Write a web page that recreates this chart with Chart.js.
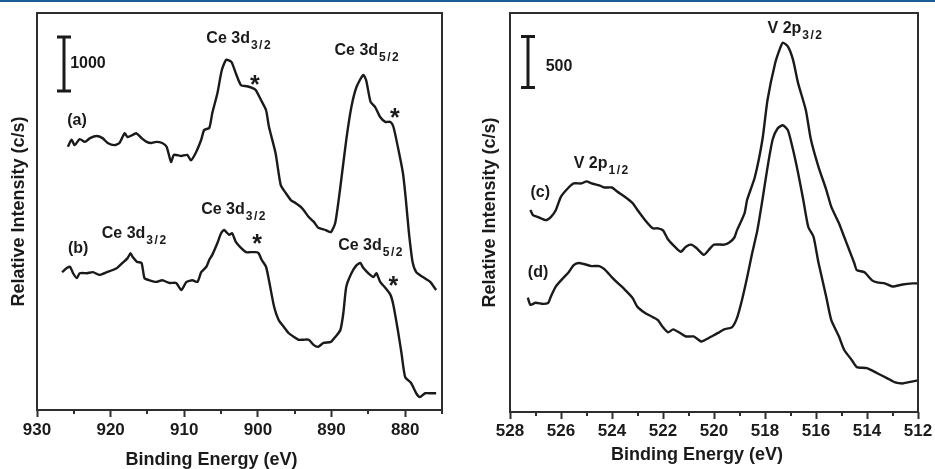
<!DOCTYPE html>
<html lang="en">
<head>
<meta charset="UTF-8">
<title>XPS spectra: Ce 3d and V 2p</title>
<script src="https://cdn.jsdelivr.net/npm/chart.js"></script>
<style>
  body { margin: 0; background: white; }
  .wrap { position: relative; width: 935px; height: 469px; overflow: hidden; }
  canvas { position: absolute; top: 0; }
  #ceChart { left: 0; }
  #vChart { left: 465px; }
  .topline { position: absolute; top: 0; left: 0; width: 935px; height: 2px; background: #1b5d96; }
</style>
</head>
<body>
<div class="wrap">
  <canvas id="ceChart" width="465" height="469"></canvas>
  <canvas id="vChart" width="470" height="469"></canvas>
  <div class="topline"></div>
</div>

<script>
// ---- Ce 3d panel: binding energy (eV) and counts (c/s) ----
const ceEnergyA = [925.8, 925.3, 924.9, 924.2, 923.5, 922.8, 921.9, 921.1, 920.4, 919.5, 918.8, 918.1, 917.7, 917.0, 916.5, 915.8, 915.1, 914.5, 913.8, 913.0, 912.4, 911.8, 911.4, 910.4, 909.6, 909.1, 908.4, 907.7, 907.3, 906.6, 906.2, 905.5, 904.9, 904.3, 903.6, 903.0, 902.3, 901.5, 900.8, 900.3, 899.6, 898.9, 898.5, 897.6, 896.9, 896.2, 895.5, 894.9, 894.2, 893.8, 893.1, 892.4, 891.8, 890.8, 890.1, 889.5, 888.8, 888.0, 887.3, 886.6, 885.7, 885.3, 884.7, 884.1, 883.4, 882.7, 882.0, 881.6, 881.0, 880.3, 879.9, 879.5, 879.0, 878.5, 877.6, 876.6, 875.8];
const ceCountsA = [4870, 5000, 4900, 5010, 4960, 5030, 5070, 5030, 4940, 4900, 4940, 5120, 5050, 5090, 5120, 5030, 4960, 4940, 4960, 4940, 4870, 4590, 4720, 4700, 4720, 4620, 4770, 5000, 5180, 5220, 5490, 5860, 6290, 6480, 6440, 6230, 6010, 5990, 5960, 5920, 5740, 5550, 5240, 4750, 4160, 4010, 3880, 3830, 3760, 3700, 3570, 3480, 3370, 3330, 3290, 3460, 4130, 5000, 5610, 5980, 6200, 6100, 5700, 5610, 5420, 5330, 5330, 5240, 4870, 4380, 3880, 3290, 2740, 2550, 2460, 2370, 2220];

const ceEnergyB = [926.6, 925.9, 925.5, 925.1, 924.6, 924.2, 923.2, 922.4, 921.5, 920.5, 919.7, 919.1, 918.4, 917.7, 917.3, 917.0, 916.4, 915.8, 915.4, 914.7, 913.8, 913.0, 912.0, 911.1, 910.4, 909.7, 908.9, 908.2, 907.7, 907.0, 906.6, 906.2, 905.5, 905.0, 904.6, 903.9, 903.5, 903.0, 902.3, 901.6, 901.0, 900.3, 899.9, 899.5, 898.9, 898.5, 897.8, 897.2, 896.5, 895.8, 895.1, 894.5, 893.8, 893.1, 892.4, 891.8, 891.1, 890.1, 889.5, 888.8, 888.4, 888.0, 887.3, 886.6, 886.1, 885.7, 885.0, 884.3, 883.9, 883.4, 882.7, 882.0, 881.6, 881.0, 880.5, 880.0, 879.2, 878.5, 878.0, 877.3, 876.5, 875.8];
const ceCountsB = [2550, 2630, 2650, 2530, 2440, 2530, 2530, 2550, 2500, 2550, 2590, 2630, 2720, 2810, 2900, 2830, 2740, 2720, 2440, 2400, 2370, 2400, 2350, 2350, 2220, 2370, 2400, 2370, 2550, 2650, 2780, 2870, 3090, 3270, 3330, 3240, 3270, 3110, 3000, 2920, 2920, 2920, 2900, 2780, 2650, 2400, 1910, 1670, 1540, 1420, 1350, 1300, 1300, 1300, 1200, 1170, 1240, 1260, 1350, 1480, 1790, 2280, 2530, 2680, 2720, 2630, 2530, 2460, 2530, 2370, 2260, 2130, 1940, 1480, 1050, 610, 500, 310, 240, 310, 310, 310];

// ---- V 2p panel ----
const vEnergyC = [527.2, 527.1, 526.9, 526.6, 526.4, 526.2, 526.0, 525.7, 525.5, 525.2, 525.0, 524.8, 524.5, 524.3, 524.0, 523.8, 523.5, 523.2, 523.0, 522.7, 522.4, 522.2, 522.0, 521.8, 521.5, 521.3, 521.1, 520.9, 520.7, 520.4, 520.2, 520.0, 519.6, 519.4, 519.2, 519.1, 518.8, 518.7, 518.4, 518.1, 517.9, 517.6, 517.4, 517.3, 517.1, 516.9, 516.7, 516.4, 516.2, 515.9, 515.6, 515.4, 515.1, 514.9, 514.7, 514.5, 514.4, 514.1, 513.8, 513.6, 513.3, 513.0, 512.6, 512.2, 512.0];
const vCountsC = [1980, 1930, 1910, 1880, 1910, 1980, 2110, 2200, 2240, 2240, 2260, 2240, 2220, 2200, 2200, 2160, 2110, 2050, 1980, 1880, 1800, 1800, 1780, 1690, 1610, 1570, 1620, 1640, 1610, 1540, 1590, 1640, 1640, 1660, 1710, 1780, 1950, 2080, 2300, 2670, 3060, 3420, 3570, 3620, 3580, 3450, 3220, 2960, 2670, 2400, 2180, 2010, 1850, 1720, 1590, 1460, 1390, 1370, 1290, 1270, 1260, 1230, 1250, 1260, 1260];

const vEnergyD = [527.3, 527.2, 527.0, 526.7, 526.5, 526.4, 526.2, 526.0, 525.7, 525.5, 525.3, 525.1, 524.8, 524.5, 524.3, 524.0, 523.8, 523.5, 523.2, 523.0, 522.7, 522.4, 522.2, 522.0, 521.8, 521.6, 521.3, 521.1, 520.8, 520.5, 520.4, 520.1, 519.8, 519.6, 519.3, 519.1, 518.9, 518.7, 518.5, 518.3, 518.1, 517.9, 517.7, 517.5, 517.3, 517.1, 516.9, 516.7, 516.5, 516.3, 516.1, 515.9, 515.6, 515.4, 515.1, 514.9, 514.6, 514.4, 514.0, 513.6, 513.2, 512.9, 512.6, 512.4, 512.0];
const vCountsD = [1120, 1050, 1070, 1060, 1070, 1130, 1230, 1290, 1370, 1440, 1460, 1450, 1430, 1430, 1400, 1320, 1270, 1200, 1120, 1030, 970, 930, 900, 830, 780, 810, 770, 740, 740, 690, 700, 740, 780, 810, 830, 920, 1100, 1320, 1560, 1780, 2080, 2400, 2670, 2780, 2810, 2760, 2570, 2340, 2080, 1810, 1720, 1460, 1130, 900, 740, 610, 510, 440, 430, 380, 330, 290, 280, 290, 310];

// peak labels, placed in data units (eV, c/s)
const ceLabels = [
  { text: 'Ce 3d', sub: '3/2', x: 907.0, y: 6790 },
  { text: '*', x: 900.4, y: 6120 },
  { text: 'Ce 3d', sub: '5/2', x: 889.6, y: 6570 },
  { text: '*', x: 881.4, y: 5510 },
  { text: '(a)', x: 925.9, y: 5270 },
  { text: '1000', x: 925.5, y: 6330 },
  { text: 'Ce 3d', sub: '3/2', x: 907.7, y: 3630 },
  { text: '*', x: 900.1, y: 3180 },
  { text: 'Ce 3d', sub: '3/2', x: 921.2, y: 3180 },
  { text: '(b)', x: 925.8, y: 2900 },
  { text: 'Ce 3d', sub: '5/2', x: 889.1, y: 2960 },
  { text: '*', x: 881.6, y: 2400 }
];
const vLabels = [
  { text: 'V 2p', sub: '3/2', x: 517.9, y: 3710 },
  { text: '500', x: 526.6, y: 3340 },
  { text: 'V 2p', sub: '1/2', x: 525.5, y: 2390 },
  { text: '(c)', x: 527.2, y: 2110 },
  { text: '(d)', x: 527.3, y: 1320 }
];

const FONT = "'Liberation Sans', Arial, sans-serif";
const INK = '#1a1a1a';
const FRAME = '#2e2e2e';

Chart.defaults.font.family = FONT;
Chart.defaults.color = INK;

// frame, short minor ticks, scale bar, labels and the x title
const paperPlugin = {
  id: 'paper',
  afterDatasetsDraw(chart, args, opts) {
    const { ctx, chartArea: a } = chart;
    const xs = chart.scales.x, ys = chart.scales.y;
    ctx.save();
    ctx.strokeStyle = FRAME;
    ctx.lineWidth = 2;
    ctx.strokeRect(a.left, a.top, a.right - a.left, a.bottom - a.top);

    ctx.beginPath();
    xs.ticks.forEach(t => {
      if (t.value % opts.major === 0) return;
      const px = Math.round(xs.getPixelForValue(t.value));
      ctx.moveTo(px, a.bottom);
      ctx.lineTo(px, a.bottom + 4);
    });
    ctx.stroke();

    const bx = Math.round(xs.getPixelForValue(opts.bar.x));
    const b0 = ys.getPixelForValue(opts.bar.from);
    const b1 = ys.getPixelForValue(opts.bar.to);
    ctx.strokeStyle = INK;
    ctx.lineWidth = 3;
    ctx.beginPath();
    ctx.moveTo(bx, b0); ctx.lineTo(bx, b1);
    ctx.moveTo(bx - 7, b0); ctx.lineTo(bx + 7, b0);
    ctx.moveTo(bx - 7, b1); ctx.lineTo(bx + 7, b1);
    ctx.stroke();

    ctx.fillStyle = INK;
    ctx.textBaseline = 'alphabetic';
    opts.labels.forEach(l => {
      const px = xs.getPixelForValue(l.x), py = ys.getPixelForValue(l.y);
      if (l.text === '*') {
        ctx.font = 'bold 25px ' + FONT;
        ctx.textAlign = 'center';
        ctx.fillText('*', px, py + 14);
        return;
      }
      ctx.textAlign = 'left';
      ctx.font = 'bold 16px ' + FONT;
      ctx.fillText(l.text, px, py);
      if (l.sub) {
        const w = ctx.measureText(l.text).width;
        ctx.font = 'bold 12px ' + FONT;
        ctx.letterSpacing = '1.5px';
        ctx.fillText(l.sub, px + w + 1, py + 6);
        ctx.letterSpacing = '0px';
      }
    });

    ctx.font = 'bold 18px ' + FONT;
    ctx.textAlign = 'center';
    ctx.textBaseline = 'middle';
    ctx.fillText('Binding Energy (eV)', xs.getPixelForValue(opts.titleAt), opts.titleY);
    ctx.restore();
  }
};

function spectrumChart(id, p) {
  return new Chart(document.getElementById(id), {
    type: 'line',
    data: {
      datasets: p.series.map(s => ({
        data: s.energy.map((e, i) => ({ x: e, y: s.counts[i] })),
        borderColor: INK,
        borderWidth: 2.4,
        pointRadius: 0,
        tension: 0.2,
        fill: false
      }))
    },
    options: {
      responsive: false,
      animation: false,
      layout: { padding: { top: 13, right: p.padRight, left: 0, bottom: 0 } },
      plugins: {
        legend: { display: false },
        tooltip: { enabled: false },
        paper: { major: p.major, bar: p.bar, labels: p.labels, titleAt: p.titleAt, titleY: p.titleY }
      },
      scales: {
        x: {
          type: 'linear',
          reverse: true,
          min: p.min,
          max: p.max,
          border: { display: false },
          grid: {
            drawOnChartArea: false,
            tickLength: 7,
            tickWidth: 2,
            tickColor: c => (c.tick && c.tick.value % p.major === 0) ? FRAME : 'rgba(0,0,0,0)'
          },
          ticks: {
            stepSize: p.step,
            autoSkip: false,
            maxRotation: 0,
            minRotation: 0,
            padding: p.tickPad,
            font: { size: 17, weight: 'bold' },
            callback: v => (v % p.major === 0 ? v : '')
          },
          afterFit: s => { s.height = p.xHeight; }
        },
        y: {
          min: 0,
          max: p.yMax,
          border: { display: false },
          grid: { display: false },
          ticks: { display: false },
          title: {
            display: true,
            text: 'Relative Intensity (c/s)',
            font: { size: 18, weight: 'bold', lineHeight: 1.2 },
            padding: { top: p.yTitlePad, bottom: 0 }
          },
          afterFit: s => { s.width = p.yWidth; }
        }
      }
    },
    plugins: [paperPlugin]
  });
}

spectrumChart('ceChart', {
  series: [{ energy: ceEnergyA, counts: ceCountsA }, { energy: ceEnergyB, counts: ceCountsB }],
  min: 875, max: 930, step: 5, major: 10,
  yMax: 7345, yWidth: 37, padRight: 23, xHeight: 59, tickPad: 3, yTitlePad: 8,
  bar: { x: 926.35, from: 5900, to: 6900 },
  labels: ceLabels, titleAt: 906.3, titleY: 460
});

spectrumChart('vChart', {
  series: [{ energy: vEnergyC, counts: vCountsC }, { energy: vEnergyD, counts: vCountsD }],
  min: 512, max: 528, step: 1, major: 2,
  yMax: 3910, yWidth: 45, padRight: 17, xHeight: 57, tickPad: 2, yTitlePad: 14,
  bar: { x: 527.29, from: 3180, to: 3680 },
  labels: vLabels, titleAt: 520.67, titleY: 455
});
</script>
</body>
</html>
